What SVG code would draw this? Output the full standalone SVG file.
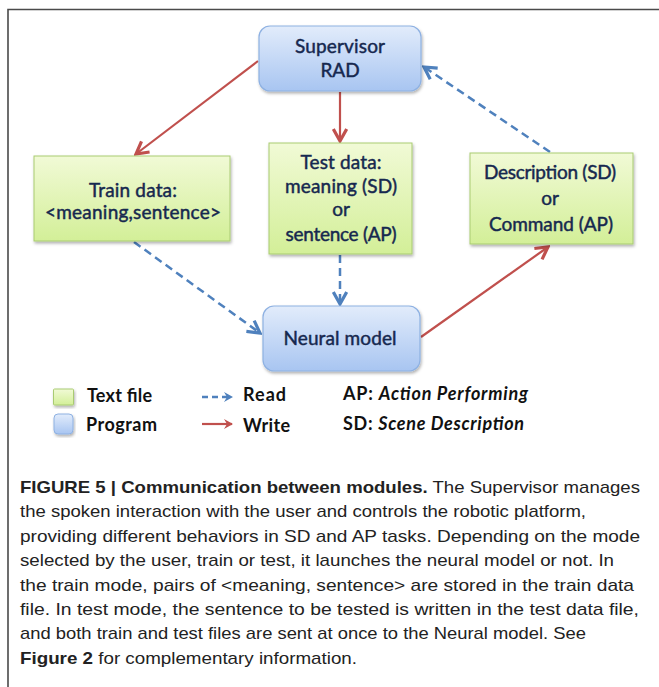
<svg xmlns="http://www.w3.org/2000/svg" width="659" height="687" viewBox="0 0 659 687">
<style>
.box-t{font-family:Lato,"Open Sans","Liberation Sans",sans-serif;font-size:19px;fill:#16284f;stroke:#16284f;stroke-width:0.45;text-anchor:middle}
.leg{font-family:Lato,"Open Sans","Liberation Sans",sans-serif;font-size:18px;font-weight:bold;fill:#111}
.cap{font-family:"Liberation Sans",Arial,sans-serif;font-size:17px;fill:#222}
.w{fill:none;stroke:#c0504d;stroke-width:2.2}
.r{fill:none;stroke:#4f81bd;stroke-width:2.5;stroke-dasharray:8 5}
.gbox{fill:url(#gg);stroke:#a9cb72;stroke-width:1}
.bbox{fill:url(#bg);stroke:#8eb1e2;stroke-width:1.2}
</style>
<defs>
<linearGradient id="gg" x1="0" y1="0" x2="0" y2="1"><stop offset="0" stop-color="#f1fad6"/><stop offset="1" stop-color="#d3ef98"/></linearGradient>
<linearGradient id="bg" x1="0" y1="0" x2="0" y2="1"><stop offset="0" stop-color="#e2ecfb"/><stop offset="1" stop-color="#a8c5f1"/></linearGradient>
<filter id="sh" x="-10%" y="-10%" width="125%" height="130%"><feDropShadow dx="1" dy="2" stdDeviation="1.5" flood-color="#000" flood-opacity="0.3"/></filter>
<marker id="ahw" markerUnits="userSpaceOnUse" markerWidth="16" markerHeight="16" refX="10" refY="6" orient="auto" viewBox="0 0 12 12"><path d="M1,1 L10,6 L1,11" fill="none" stroke="#c0504d" stroke-width="2.4"/></marker>
<marker id="ahr" markerUnits="userSpaceOnUse" markerWidth="16" markerHeight="16" refX="10" refY="6" orient="auto" viewBox="0 0 12 12"><path d="M1,1 L10,6 L1,11" fill="none" stroke="#4f81bd" stroke-width="2.4"/></marker>
<marker id="lw" markerUnits="userSpaceOnUse" markerWidth="12" markerHeight="12" refX="9" refY="6" orient="auto" viewBox="0 0 12 12"><path d="M1,1 L10,6 L1,11 L4,6 Z" fill="#c0504d"/></marker>
<marker id="lr" markerUnits="userSpaceOnUse" markerWidth="12" markerHeight="12" refX="9" refY="6" orient="auto" viewBox="0 0 12 12"><path d="M1,1 L10,6 L1,11 L4,6 Z" fill="#4f81bd"/></marker>
</defs>
<rect width="659" height="687" fill="#fff"/>
<path d="M8,687 V9.5 H659" fill="none" stroke="#4a4a4a" stroke-width="1.6"/>

<g id="connectors">
<path class="w" d="M258,61 L136,154" marker-end="url(#ahw)"/>
<path class="w" d="M340,92 L340,141" marker-end="url(#ahw)"/>
<path class="r" d="M550,152 L424,67" marker-end="url(#ahr)"/>
<path class="r" d="M134,242 L260,333" marker-end="url(#ahr)"/>
<path class="r" d="M340,255 L340,304" marker-end="url(#ahr)"/>
<path class="w" d="M421,337 L548,247" marker-end="url(#ahw)"/>
</g>

<g id="supervisor">
<rect class="bbox" x="259" y="26" width="162" height="65" rx="11" filter="url(#sh)"/>
<text class="box-t" x="340" y="53" textLength="90">Supervisor</text>
<text class="box-t" x="340" y="77">RAD</text>
</g>
<g id="train-data">
<rect class="gbox" x="34" y="156" width="196" height="85" filter="url(#sh)"/>
<text class="box-t" x="133" y="197" textLength="88">Train data:</text>
<text class="box-t" x="133" y="219" textLength="176">&lt;meaning,sentence&gt;</text>
</g>
<g id="test-data">
<rect class="gbox" x="269" y="143" width="143" height="111" filter="url(#sh)"/>
<text class="box-t" x="341" y="169" textLength="81">Test data:</text>
<text class="box-t" x="341" y="193" textLength="112">meaning (SD)</text>
<text class="box-t" x="341" y="216">or</text>
<text class="box-t" x="341" y="241" textLength="111">sentence (AP)</text>
</g>
<g id="description">
<rect class="gbox" x="470" y="153" width="163" height="91" filter="url(#sh)"/>
<text class="box-t" x="550" y="179" textLength="132">Description (SD)</text>
<text class="box-t" x="550" y="205">or</text>
<text class="box-t" x="551" y="231" textLength="124">Command (AP)</text>
</g>
<g id="neural-model">
<rect class="bbox" x="263" y="306" width="157" height="65" rx="11" filter="url(#sh)"/>
<text class="box-t" x="340" y="345" textLength="113">Neural model</text>
</g>

<g id="legend">
<rect x="53.5" y="389" width="20" height="16" rx="1" fill="url(#gg)" stroke="#a9cb72" filter="url(#sh)"/>
<rect x="54" y="414" width="19" height="20" rx="4" fill="url(#bg)" stroke="#8eb1e2" filter="url(#sh)"/>
<text class="leg" x="87" y="402" textLength="65">Text file</text>
<text class="leg" x="86" y="431" textLength="71">Program</text>
<path d="M202,397 H232" fill="none" stroke="#4f81bd" stroke-width="2.5" stroke-dasharray="6 4" marker-end="url(#lr)"/>
<path d="M202,424 H232" fill="none" stroke="#c0504d" stroke-width="2.2" marker-end="url(#lw)"/>
<text class="leg" x="243" y="401" textLength="43">Read</text>
<text class="leg" x="243" y="432" textLength="47">Write</text>
<text class="leg" x="343" y="400" textLength="185">AP: <tspan font-style="italic">Action Performing</tspan></text>
<text class="leg" x="343" y="430" textLength="181">SD: <tspan font-style="italic">Scene Description</tspan></text>
</g>

<g id="caption">
<text class="cap" x="20" y="493" textLength="620" lengthAdjust="spacingAndGlyphs"><tspan font-weight="bold">FIGURE 5 | Communication between modules.</tspan> The Supervisor manages</text>
<text class="cap" x="20" y="517.4" textLength="566" lengthAdjust="spacingAndGlyphs">the spoken interaction with the user and controls the robotic platform,</text>
<text class="cap" x="20" y="541.8" textLength="620" lengthAdjust="spacingAndGlyphs">providing different behaviors in SD and AP tasks. Depending on the mode</text>
<text class="cap" x="20" y="566.2" textLength="594" lengthAdjust="spacingAndGlyphs">selected by the user, train or test, it launches the neural model or not. In</text>
<text class="cap" x="20" y="590.6" textLength="614" lengthAdjust="spacingAndGlyphs">the train mode, pairs of &lt;meaning, sentence&gt; are stored in the train data</text>
<text class="cap" x="20" y="615" textLength="619" lengthAdjust="spacingAndGlyphs">file. In test mode, the sentence to be tested is written in the test data file,</text>
<text class="cap" x="20" y="639.4" textLength="566" lengthAdjust="spacingAndGlyphs">and both train and test files are sent at once to the Neural model. See</text>
<text class="cap" x="20" y="663.8" textLength="337" lengthAdjust="spacingAndGlyphs"><tspan font-weight="bold">Figure 2</tspan> for complementary information.</text>
</g>
</svg>
